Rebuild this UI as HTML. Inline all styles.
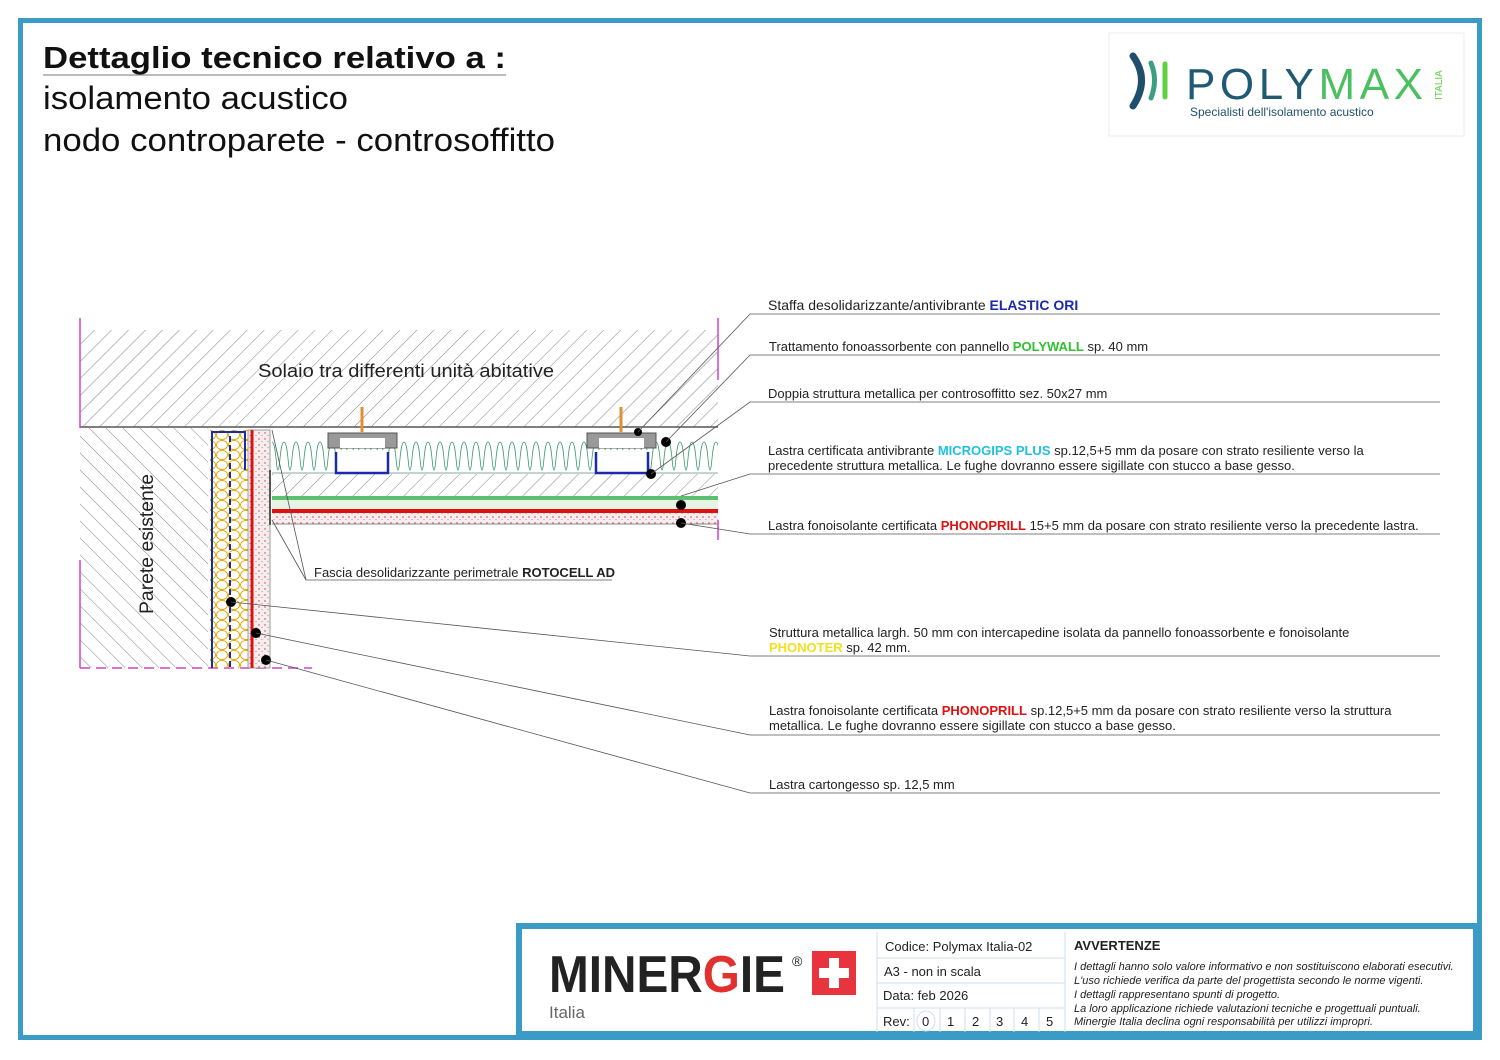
<!DOCTYPE html>
<html><head><meta charset="utf-8"><style>
html,body{margin:0;padding:0;background:#fff}
svg{display:block}
text{font-family:"Liberation Sans",sans-serif}
</style></head><body>
<svg width="1500" height="1060" viewBox="0 0 1500 1060" xmlns="http://www.w3.org/2000/svg">
<defs>
<pattern id="h1" width="12" height="12" patternUnits="userSpaceOnUse" patternTransform="rotate(45)"><line x1="0" y1="0" x2="0" y2="12" stroke="#666" stroke-width="0.8"/></pattern>
<pattern id="h2" width="12" height="12" patternUnits="userSpaceOnUse" patternTransform="rotate(-45)"><line x1="0" y1="0" x2="0" y2="12" stroke="#666" stroke-width="0.8"/></pattern>
<pattern id="dots" width="6" height="6" patternUnits="userSpaceOnUse"><rect width="6" height="6" fill="#f6eeee"/><circle cx="1" cy="1" r="0.7" fill="#c33"/><circle cx="4" cy="3.5" r="0.6" fill="#999"/></pattern>
<pattern id="wool" x="272" y="440" width="12" height="32" patternUnits="userSpaceOnUse"><path d="M0,2 C4,2 4,30 6,30 C8,30 8,2 12,2" fill="none" stroke="#3a9a6a" stroke-width="0.8"/></pattern>
<pattern id="yel" width="12" height="10" patternUnits="userSpaceOnUse"><ellipse cx="6" cy="5" rx="5.5" ry="4.6" fill="none" stroke="#e0a800" stroke-width="0.9"/></pattern>
</defs>
<rect width="1500" height="1060" fill="#fff"/>
<rect x="20.5" y="20.5" width="1459" height="1017" fill="none" stroke="#3a9cc6" stroke-width="5"/>

<!-- title -->
<text x="43" y="68" font-size="31" font-weight="bold" fill="#111" textLength="463" lengthAdjust="spacingAndGlyphs">Dettaglio tecnico relativo a :</text>
<line x1="43" y1="75" x2="506" y2="75" stroke="#777" stroke-width="1"/>
<text x="43" y="109" font-size="32" fill="#111" textLength="305" lengthAdjust="spacingAndGlyphs">isolamento acustico</text>
<text x="43" y="151" font-size="32" fill="#111" textLength="512" lengthAdjust="spacingAndGlyphs">nodo controparete - controsoffitto</text>

<!-- logo -->
<rect x="1109" y="33" width="355" height="103" fill="#fff" stroke="#eee"/>
<path d="M1133,56 Q1150,80 1133,106" fill="none" stroke="#1e4f6e" stroke-width="7" stroke-linecap="round"/>
<path d="M1151,63 Q1158,80 1151,98" fill="none" stroke="#3aa080" stroke-width="5" stroke-linecap="round"/>
<line x1="1165" y1="64" x2="1165" y2="97" stroke="#5fd040" stroke-width="5" stroke-linecap="round"/>
<text x="1186" y="99" font-size="44" fill="#1e5a72" letter-spacing="3" textLength="240">POLY<tspan fill="#4cc060">MAX</tspan></text>
<text x="1190" y="116" font-size="12" fill="#1e4f6e">Specialisti dell'isolamento acustico</text>
<text transform="translate(1442,100) rotate(-90)" font-size="10" fill="#5fd040">ITALIA</text>

<!-- slab -->
<rect x="80" y="330" width="638" height="97" fill="url(#h1)"/>
<line x1="80" y1="427" x2="718" y2="427" stroke="#555" stroke-width="1.5"/>
<line x1="80" y1="318" x2="80" y2="428" stroke="#d040d0" stroke-width="1.5"/>
<line x1="718" y1="318" x2="718" y2="380" stroke="#d040d0" stroke-width="1.5"/>
<text x="258" y="377" font-size="18" fill="#222" textLength="296" lengthAdjust="spacingAndGlyphs">Solaio tra differenti unità abitative</text>
<!-- wall -->
<rect x="80" y="428" width="128" height="240" fill="url(#h2)"/>
<line x1="80" y1="560" x2="80" y2="668" stroke="#d040d0" stroke-width="1.5"/>
<line x1="80" y1="668" x2="312" y2="668" stroke="#d040d0" stroke-width="1.5" stroke-dasharray="10,6"/>
<text transform="translate(153,614) rotate(-90)" font-size="19" fill="#222" textLength="140" lengthAdjust="spacingAndGlyphs">Parete esistente</text>

<!-- counterwall -->
<rect x="210" y="430" width="38" height="238" fill="url(#yel)"/>
<path d="M212,668 V432 H245 V470" fill="none" stroke="#1a2aa8" stroke-width="2"/>
<line x1="230" y1="436" x2="230" y2="668" stroke="#1a2aa8" stroke-width="2" stroke-dasharray="6,3"/>
<rect x="248" y="430" width="22" height="238" fill="url(#dots)" stroke="#777" stroke-width="0.7"/>
<line x1="252" y1="430" x2="252" y2="668" stroke="#e01010" stroke-width="3"/>
<line x1="270" y1="470" x2="270" y2="525" stroke="#555" stroke-width="2"/>

<!-- ceiling -->
<rect x="272" y="440" width="446" height="32" fill="url(#wool)"/>
<line x1="272" y1="473" x2="718" y2="473" stroke="#8aa" stroke-width="1"/>
<rect x="272" y="474" width="446" height="22" fill="url(#h1)"/>
<rect x="272" y="496" width="446" height="4" fill="#5cc070"/>
<rect x="272" y="500" width="446" height="9" fill="#e6f4e6"/>
<rect x="272" y="509" width="446" height="4" fill="#e01010"/>
<rect x="272" y="513" width="446" height="11" fill="url(#dots)"/>
<line x1="272" y1="524" x2="718" y2="524" stroke="#888" stroke-width="1"/>
<line x1="718" y1="520" x2="718" y2="540" stroke="#d040d0" stroke-width="1.5"/>

<!-- hangers -->
<g>
<rect x="328" y="433" width="69" height="15" fill="#999" stroke="#555"/>
<rect x="340" y="438" width="45" height="10" fill="#fff"/>
<line x1="362" y1="407" x2="362" y2="432" stroke="#e09030" stroke-width="3"/>
<rect x="336" y="450" width="52" height="23" fill="#fff"/>
<path d="M336,452 V473 H388 V452" fill="none" stroke="#1a2aa8" stroke-width="2.5"/>
<rect x="587" y="433" width="69" height="15" fill="#999" stroke="#555"/>
<rect x="599" y="438" width="45" height="10" fill="#fff"/>
<line x1="621" y1="407" x2="621" y2="432" stroke="#e09030" stroke-width="3"/>
<rect x="596" y="450" width="52" height="23" fill="#fff"/>
<path d="M596,452 V473 H648 V452" fill="none" stroke="#1a2aa8" stroke-width="2.5"/>
</g>

<!-- dots -->
<g fill="#000">
<circle cx="638" cy="432" r="4"/><circle cx="666" cy="442" r="5"/><circle cx="651" cy="474" r="5"/>
<circle cx="681" cy="505" r="5"/><circle cx="681" cy="523" r="5"/>
<circle cx="231" cy="602" r="5"/><circle cx="256" cy="633" r="5"/><circle cx="266" cy="660" r="5"/>
</g>

<!-- leaders -->
<g stroke="#555" stroke-width="0.8" fill="none">
<polyline points="638,432 750,314 1440,314"/>
<polyline points="666,442 750,355 1440,355"/>
<polyline points="651,474 750,402 1440,402"/>
<polyline points="681,496 750,474 1440,474"/>
<polyline points="681,523 750,534 1440,534"/>
<polyline points="231,602 750,656 1440,656"/>
<polyline points="256,633 750,735 1440,735"/>
<polyline points="266,660 750,793 1440,793"/>
<polyline points="272,430 306,580 612,580"/>
<line x1="272" y1="520" x2="306" y2="580"/>
</g>

<g font-size="13" fill="#222">
<text x="768" y="310" font-size="14">Staffa desolidarizzante/antivibrante <tspan font-weight="bold" fill="#1a2aa8">ELASTIC ORI</tspan></text>
<text x="769" y="351">Trattamento fonoassorbente con pannello <tspan font-weight="bold" fill="#30c030">POLYWALL</tspan> sp. 40 mm</text>
<text x="768" y="398">Doppia struttura metallica per controsoffitto sez. 50x27 mm</text>
<text x="768" y="455">Lastra certificata antivibrante <tspan font-weight="bold" fill="#20c0e0">MICROGIPS PLUS</tspan> sp.12,5+5 mm da posare con strato resiliente verso la</text>
<text x="768" y="470">precedente struttura metallica. Le fughe dovranno essere sigillate con stucco a base gesso.</text>
<text x="768" y="530">Lastra fonoisolante certificata <tspan font-weight="bold" fill="#e01010">PHONOPRILL</tspan> 15+5 mm da posare con strato resiliente verso la precedente lastra.</text>
<text x="314" y="577">Fascia desolidarizzante perimetrale <tspan font-weight="bold">ROTOCELL AD</tspan></text>
<text x="769" y="637">Struttura metallica largh. 50 mm con intercapedine isolata da pannello fonoassorbente e fonoisolante</text>
<text x="769" y="652"><tspan font-weight="bold" fill="#f0e020">PHONOTER</tspan> sp. 42 mm.</text>
<text x="769" y="715">Lastra fonoisolante certificata <tspan font-weight="bold" fill="#e01010">PHONOPRILL</tspan> sp.12,5+5 mm da posare con strato resiliente verso la struttura</text>
<text x="769" y="730">metallica. Le fughe dovranno essere sigillate con stucco a base gesso.</text>
<text x="769" y="789">Lastra cartongesso sp. 12,5 mm</text>
</g>

<!-- footer -->
<rect x="519" y="926" width="957" height="108" fill="#fff" stroke="#3a9cc6" stroke-width="6"/>
<text x="549" y="992" font-size="52" font-weight="bold" fill="#222" textLength="236" lengthAdjust="spacingAndGlyphs">MINER<tspan fill="#e03030">G</tspan>IE</text>
<text x="792" y="966" font-size="14" fill="#222">®</text>
<rect x="812" y="951" width="44" height="44" fill="#e8343c"/>
<rect x="829" y="958" width="10" height="30" fill="#fff"/><rect x="819" y="968" width="30" height="10" fill="#fff"/>
<text x="549" y="1018" font-size="17" fill="#666">Italia</text>
<g stroke="#cde" stroke-width="1" fill="none">
<line x1="877" y1="932" x2="877" y2="1032"/><line x1="1065" y1="932" x2="1065" y2="1032"/>
<line x1="877" y1="958" x2="1065" y2="958"/><line x1="877" y1="983" x2="1065" y2="983"/><line x1="877" y1="1008" x2="1065" y2="1008"/>
<line x1="914" y1="1008" x2="914" y2="1032"/><line x1="940" y1="1008" x2="940" y2="1032"/><line x1="965" y1="1008" x2="965" y2="1032"/><line x1="990" y1="1008" x2="990" y2="1032"/><line x1="1014" y1="1008" x2="1014" y2="1032"/><line x1="1039" y1="1008" x2="1039" y2="1032"/>
<ellipse cx="926" cy="1021" rx="9" ry="10"/>
</g>
<g font-size="13" fill="#222">
<text x="885" y="951">Codice:  Polymax Italia-02</text>
<text x="884" y="976">A3 - non in scala</text>
<text x="883" y="1000">Data: feb 2026</text>
<text x="883" y="1026">Rev:</text>
<text x="922" y="1026">0</text><text x="947" y="1026">1</text><text x="972" y="1026">2</text><text x="996" y="1026">3</text><text x="1021" y="1026">4</text><text x="1046" y="1026">5</text>
<text x="1074" y="950" font-weight="bold">AVVERTENZE</text>
</g>
<g font-size="11" font-style="italic" fill="#222">
<text x="1074" y="970">I dettagli hanno solo valore informativo e non sostituiscono elaborati esecutivi.</text>
<text x="1074" y="984">L'uso richiede verifica da parte del progettista secondo le norme vigenti.</text>
<text x="1074" y="998">I dettagli rappresentano spunti di progetto.</text>
<text x="1074" y="1012">La loro applicazione richiede valutazioni tecniche e progettuali puntuali.</text>
<text x="1074" y="1025">Minergie Italia declina ogni responsabilità per utilizzi impropri.</text>
</g>
</svg>
</body></html>
